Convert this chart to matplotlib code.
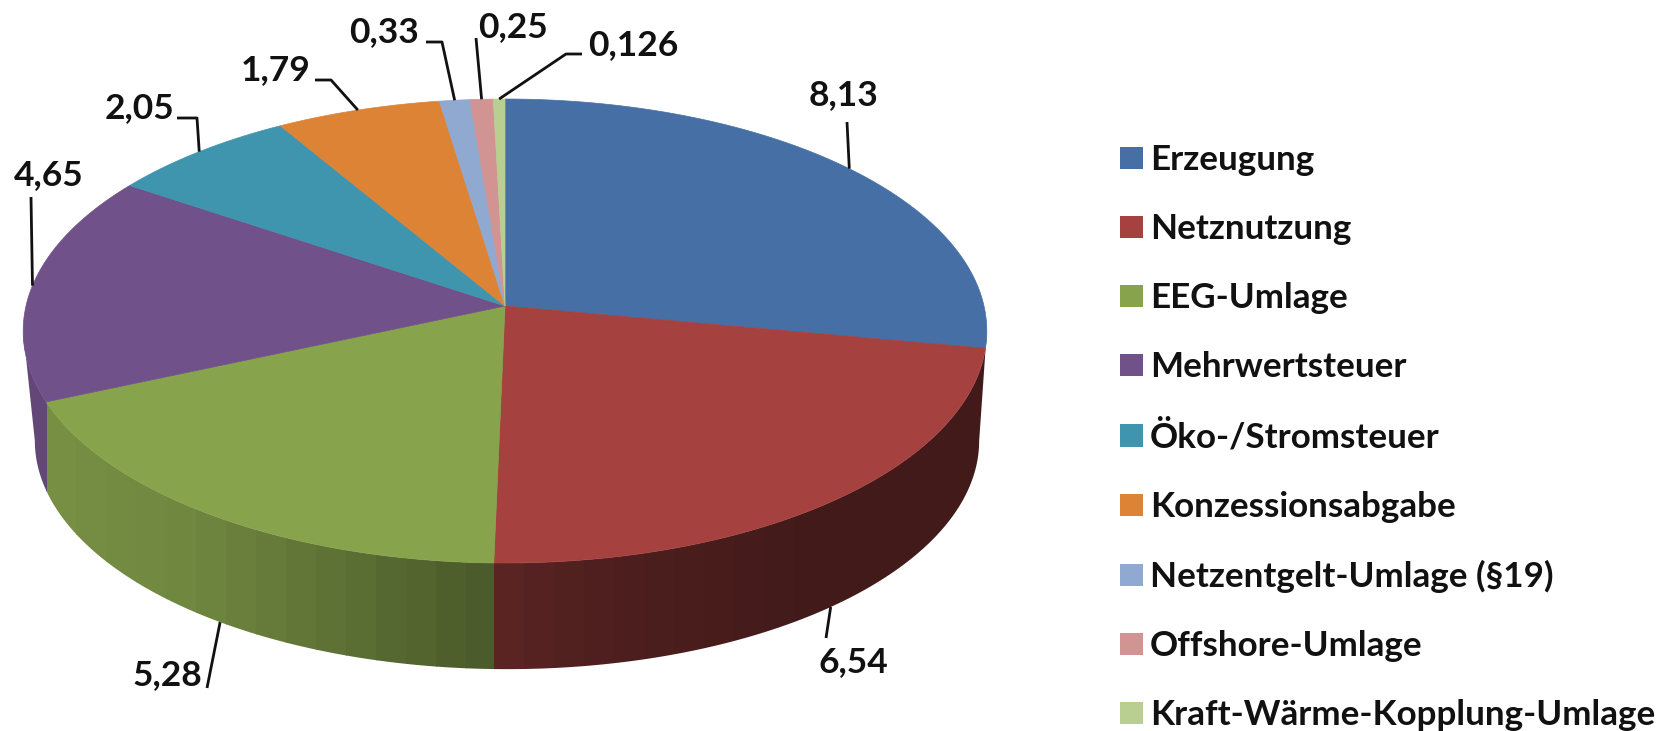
import matplotlib
matplotlib.use('Agg')
import matplotlib.pyplot as plt
from matplotlib.patches import Patch, Polygon
import numpy as np

plt.rcParams['font.family'] = ['Lato', 'DejaVu Sans']

names = ['Erzeugung', 'Netznutzung', 'EEG-Umlage', 'Mehrwertsteuer', 'Öko-/Stromsteuer',
         'Konzessionsabgabe', 'Netzentgelt-Umlage (§19)', 'Offshore-Umlage',
         'Kraft-Wärme-Kopplung-Umlage']
values = [8.13, 6.54, 5.28, 4.65, 2.05, 1.79, 0.33, 0.25, 0.126]
value_labels = ['8,13', '6,54', '5,28', '4,65', '2,05', '1,79', '0,33', '0,25', '0,126']
colors = ['#456fa5', '#a54240', '#87a34c', '#705189', '#4095ae', '#dd8336',
          '#8fa9d0', '#d19492', '#b8cf91']

# pixel position of each value label and the knee of its leader line
label_xy = [(844, 95), (853, 662), (167, 675), (49, 175), (139, 108), (276, 70),
            (384, 32), (513, 27), (633, 45)]
leader_knees = [[(847, 122)], [(826, 638)], [(207, 688)], [(31, 197)],
                [(197, 118), (177, 118)], [(331, 80), (315, 80)],
                [(442, 42), (426, 42)], [(476, 38)], [(566, 54), (582, 54)]]

CX, CY = 505, 306
RX, RY = 479, 229.3
PERSP = 0.1078
DEPTH = 110
BOTTOM_X = 0.98
BOTTOM_Y = 0.985
BOTTOM_SHIFT = 2


def top_rim(theta):
    # theta in degrees, clockwise from the top, seen in perspective
    t = np.radians(theta)
    u, v = np.sin(t), -np.cos(t)
    d = 1 - PERSP * v
    return CX + RX * u / d, CY + RY * v / d


def bottom_rim(theta):
    t = np.radians(theta)
    u, v = np.sin(t), -np.cos(t)
    d = 1 - PERSP * v
    return CX + BOTTOM_SHIFT + BOTTOM_X * RX * u / d, CY + DEPTH + BOTTOM_Y * RY * v / d


def main():
    fig = plt.figure(figsize=(16.61, 7.31), dpi=100)
    ax = fig.add_axes([0, 0, 1, 1])
    ax.set_xlim(0, 1661)
    ax.set_ylim(731, 0)
    ax.axis('off')

    edges = np.concatenate([[0], np.cumsum(values)]) / np.sum(values) * 360

    # outline of the side wall, from the widest point on one side to the other
    sweep = np.linspace(96.2, 263.8, 300)
    x1, y1 = top_rim(sweep)
    x2, y2 = bottom_rim(sweep[::-1])
    wall = Polygon(np.c_[np.r_[x1, x2], np.r_[y1, y2]], transform=ax.transData, fill=False, lw=0)
    ax.add_patch(wall)

    # vertical shading bands of the three slices that show a wall
    for i in [1, 2, 3]:
        x_right = x1.max() + 1 if i == 1 else top_rim(edges[i])[0]
        x_left = x1.min() - 1 if i == 3 else top_rim(edges[i + 1])[0]
        bands = np.append(np.arange(x_left, x_right, 30.0), x_right)
        for a, b in zip(bands[:-1], bands[1:]):
            shade = np.interp((a + b) / 2, [21, 47, 200, 466, 600, 800, 986],
                              [0.88, 0.88, 0.82, 0.57, 0.47, 0.40, 0.40])
            col = np.array(matplotlib.colors.to_rgb(colors[i])) * shade
            band = ax.fill_between([a, b + 0.6], CY, 700, color=col, lw=0, zorder=1)
            band.set_clip_path(wall)

    # top face
    for i in range(len(values)):
        th = np.linspace(edges[i], edges[i + 1], 80)
        x, y = top_rim(th)
        ax.fill(np.r_[CX, x], np.r_[CY, y], color=colors[i], lw=0.5, zorder=2)

    # value labels with leader lines
    for i in range(len(values)):
        mid = (edges[i] + edges[i + 1]) / 2
        if 120 < mid < 240:
            px, py = bottom_rim(mid)
        else:
            px, py = top_rim(mid)
        xs = [px] + [k[0] for k in leader_knees[i]]
        ys = [py] + [k[1] for k in leader_knees[i]]
        ax.plot(xs, ys, color='#111111', lw=2.0, solid_capstyle='butt', zorder=3)
        ax.text(label_xy[i][0], label_xy[i][1], value_labels[i], ha='center', va='center',
                fontsize=25.5, fontweight='bold', color='#111111', zorder=4)

    handles = [Patch(facecolor=c, edgecolor='none') for c in colors]
    ax.legend(handles, names, loc='upper left', bbox_to_anchor=(1120, 144),
              bbox_transform=ax.transData, frameon=False,
              prop={'weight': 'bold', 'size': 25.2},
              labelcolor='#111111', handlelength=0.66, handleheight=0.6,
              handletextpad=0.2, labelspacing=1.06, borderpad=0, borderaxespad=0)

    fig.savefig('out.png', dpi=100)


if __name__ == '__main__':
    main()
